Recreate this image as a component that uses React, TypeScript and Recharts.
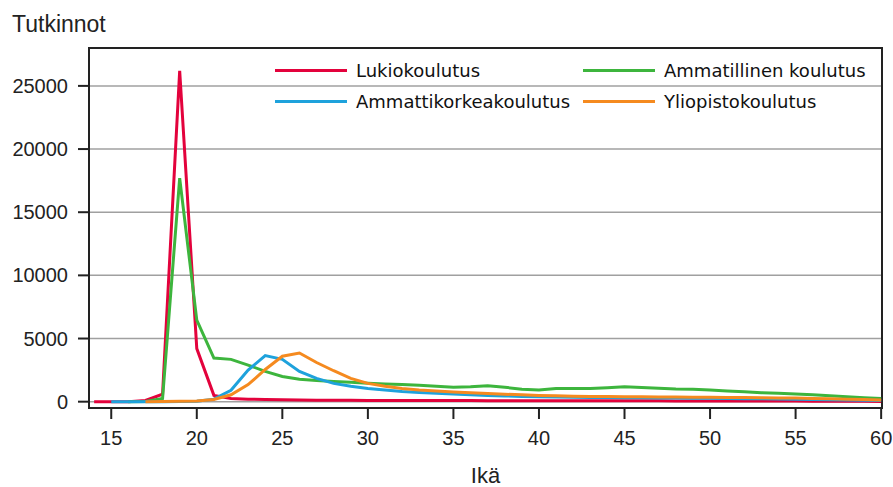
import React from 'react';
import { LineChart, Line, XAxis, YAxis, CartesianGrid, ReferenceArea } from 'recharts';

// Age (x) and number of degrees per education type
const ages = [
  14, 15, 16, 17, 18, 19, 20, 21, 22, 23, 24, 25, 26, 27, 28, 29, 30, 31, 32, 33, 34, 35, 36, 37,
  38, 39, 40, 41, 42, 43, 44, 45, 46, 47, 48, 49, 50, 51, 52, 53, 54, 55, 56, 57, 58, 59, 60,
];

const lukio = [
  0, 0, 0, 100, 600, 26200, 4200, 500, 250, 200, 170, 150, 130, 120, 110, 105, 100, 95, 95, 90, 90,
  85, 85, 80, 80, 80, 75, 75, 75, 70, 70, 70, 65, 65, 60, 60, 55, 55, 50, 50, 45, 45, 40, 35, 30,
  25, 20,
];

const ammatillinen = [
  null, null, 0, 20, 250, 17700, 6450, 3450, 3350, 2900, 2400, 2000, 1780, 1680, 1600, 1530, 1450,
  1400, 1360, 1300, 1230, 1150, 1180, 1260, 1140, 990, 930, 1050, 1040, 1050, 1100, 1180, 1130,
  1060, 1000, 980, 920, 850, 790, 710, 660, 610, 540, 470, 400, 320, 260,
];

const amk = [
  null, 0, 0, 0, 0, 10, 40, 200, 900, 2500, 3650, 3350, 2400, 1850, 1450, 1220, 1050, 920, 800,
  720, 660, 600, 540, 490, 450, 420, 390, 370, 350, 340, 330, 320, 310, 300, 290, 280, 270, 255,
  240, 225, 210, 195, 180, 160, 140, 120, 100,
];

const yliopisto = [
  null, null, null, 0, 10, 30, 60, 170, 550, 1350, 2550, 3600, 3850, 3100, 2450, 1850, 1450, 1220,
  1050, 920, 840, 770, 710, 650, 590, 540, 490, 460, 440, 420, 410, 400, 390, 380, 370, 360, 350,
  340, 330, 320, 300, 290, 260, 230, 200, 170, 130,
];

const xTicks = [15, 20, 25, 30, 35, 40, 45, 50, 55, 60];
const yTicks = [0, 5000, 10000, 15000, 20000, 25000];

const series = [
  { key: 'lukio', name: 'Lukiokoulutus', color: '#e3023c', values: lukio },
  { key: 'ammatillinen', name: 'Ammatillinen koulutus', color: '#3db53d', values: ammatillinen },
  { key: 'amk', name: 'Ammattikorkeakoulutus', color: '#1ea2dc', values: amk },
  { key: 'yliopisto', name: 'Yliopistokoulutus', color: '#f58a1f', values: yliopisto },
];

const data = ages.map((age, i) => {
  const row: Record<string, number | null> = { age };
  series.forEach((s) => {
    row[s.key] = s.values[i];
  });
  return row;
});

const X_MIN = 13.7;
const X_MAX = 60.05;
const Y_MIN = -500;
const Y_MAX = 28000;

const tickStyle = { fill: '#222', fontSize: 20, fontFamily: '"Liberation Sans", Arial, sans-serif' };

const legendPos = [
  { left: 275, top: 70 },
  { left: 583, top: 70 },
  { left: 275, top: 101 },
  { left: 583, top: 101 },
];

const App: React.FC = () => {
  return (
    <div style={{ position: 'relative', width: 893, height: 487, background: '#fff' }}>
      <style>{'body{margin:0;}'}</style>
      <LineChart width={893} height={487} data={data} margin={{ top: 48, right: 11, left: 0, bottom: 0 }}>
        <CartesianGrid vertical={false} stroke="#a0a0a0" strokeWidth={1.5} />
        <XAxis
          dataKey="age"
          type="number"
          domain={[X_MIN, X_MAX]}
          ticks={xTicks}
          allowDataOverflow
          height={79}
          tickSize={11}
          tickMargin={12}
          tick={tickStyle}
          stroke="#222"
          strokeWidth={2}
          label={{
            value: 'Ikä',
            position: 'insideBottom',
            offset: 4,
            fill: '#222',
            fontSize: 22,
            fontFamily: '"Liberation Sans", Arial, sans-serif',
          }}
        />
        <YAxis
          type="number"
          domain={[Y_MIN, Y_MAX]}
          ticks={yTicks}
          allowDataOverflow
          width={89}
          tickSize={11}
          tickMargin={10}
          tick={tickStyle}
          stroke="#222"
          strokeWidth={2}
        />
        <ReferenceArea x1={X_MIN} x2={X_MAX} y1={Y_MIN} y2={Y_MAX} fill="none" stroke="#222" strokeWidth={2} />
        {series.map((s) => (
          <Line
            key={s.key}
            dataKey={s.key}
            name={s.name}
            stroke={s.color}
            strokeWidth={3}
            dot={false}
            type="linear"
            connectNulls={false}
            isAnimationActive={false}
          />
        ))}
      </LineChart>

      {/* Y axis title */}
      <div
        style={{
          position: 'absolute',
          left: 12,
          top: 11,
          fontSize: 23,
          color: '#222',
          fontFamily: '"Liberation Sans", Arial, sans-serif',
        }}
      >
        Tutkinnot
      </div>

      {/* Legend, two rows inside the plot */}
      {series.map((s, i) => (
        <div
          key={s.key}
          style={{
            position: 'absolute',
            left: legendPos[i].left,
            top: legendPos[i].top - 12,
            height: 24,
            display: 'flex',
            alignItems: 'center',
            fontFamily: '"DejaVu Sans", Verdana, sans-serif',
            fontSize: 18,
            color: '#111',
            whiteSpace: 'nowrap',
          }}
        >
          <span style={{ display: 'inline-block', width: 72, height: 3, background: s.color, marginRight: 9 }} />
          {s.name}
        </div>
      ))}
    </div>
  );
};

export default App;
